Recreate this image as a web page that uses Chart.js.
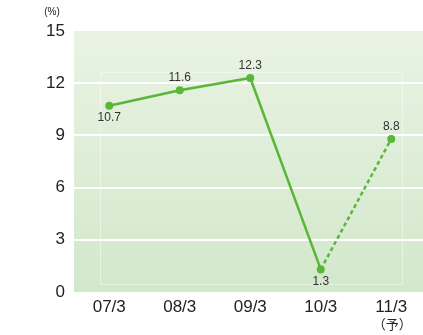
<!DOCTYPE html>
<html>
<head>
<meta charset="utf-8">
<script src="https://cdn.jsdelivr.net/npm/chart.js@4/dist/chart.umd.min.js"></script>
<style>
  html, body { margin: 0; padding: 0; background: #fff; overflow: hidden; }
  #wrap { width: 423px; height: 335px; position: relative; }
</style>
</head>
<body>
<div id="wrap"><canvas id="c"></canvas></div>
<script>
// data
var categories = ['07/3', '08/3', '09/3', '10/3', '11/3'];
var subLabels = ['', '', '', '', '（予）'];
var values = [10.7, 11.6, 12.3, 1.3, 8.8];
var labelBelow = [true, false, false, true, false];
var yTicks = [0, 3, 6, 9, 12, 15];

var GREEN = '#5ab637';
var FONT = '"Liberation Sans", Arial, sans-serif';

var points = values.map(function(v, i) { return {x: i, y: v}; });

// background gradient + faint inner frame
var bgPlugin = {
  id: 'bg',
  beforeDraw: function(chart) {
    var a = chart.chartArea, ctx = chart.ctx;
    ctx.save();
    var g = ctx.createLinearGradient(0, a.top, 0, a.bottom);
    g.addColorStop(0, '#e9f3e3');
    g.addColorStop(1, '#d2e8cb');
    ctx.fillStyle = g;
    ctx.fillRect(a.left, a.top, a.right - a.left, a.bottom - a.top);
    ctx.strokeStyle = 'rgba(255,255,255,0.45)';
    ctx.lineWidth = 1;
    ctx.strokeRect(a.left + 26.5, a.top + 41.5, a.right - a.left - 47, a.bottom - a.top - 49);
    ctx.restore();
  }
};

// value labels, % unit, forecast mark
var textPlugin = {
  id: 'texts',
  afterDatasetsDraw: function(chart) {
    var ctx = chart.ctx;
    var meta = chart.getDatasetMeta(0);
    ctx.save();
    ctx.fillStyle = '#333';
    ctx.font = '12px ' + FONT;
    ctx.textAlign = 'center';
    ctx.textBaseline = 'middle';
    meta.data.forEach(function(pt, i) {
      var dy = labelBelow[i] ? 12 : -12;
      ctx.fillText(String(values[i]), pt.x, pt.y + dy);
    });
    ctx.fillStyle = '#222';
    ctx.font = '10px ' + FONT;
    ctx.fillText('(%)', 52, 12);
    // forecast mark under the last category, one char per full-width cell
    var xs = chart.scales.x;
    ctx.font = '13px "Noto Sans CJK JP", sans-serif';
    subLabels.forEach(function(s, i) {
      if (!s) return;
      var cx = xs.getPixelForValue(i) + 1;
      var chars = Array.from(s);
      chars.forEach(function(ch, k) {
        ctx.fillText(ch, cx + (k - (chars.length - 1) / 2) * 13, 324);
      });
    });
    ctx.restore();
  }
};

new Chart(document.getElementById('c'), {
  type: 'line',
  data: {
    datasets: [{
      data: points,
      borderColor: GREEN,
      backgroundColor: GREEN,
      borderWidth: 2.5,
      pointRadius: 4,
      pointHoverRadius: 4,
      pointBorderWidth: 0,
      tension: 0,
      segment: {
        borderDash: function(ctx) { return ctx.p0DataIndex === 3 ? [4, 3] : undefined; }
      }
    }]
  },
  options: {
    responsive: true,
    maintainAspectRatio: false,
    animation: false,
    layout: {autoPadding: false, padding: {top: 31, left: 0, right: 0, bottom: 0}},
    plugins: {legend: {display: false}, tooltip: {enabled: false}},
    scales: {
      x: {
        type: 'linear',
        min: -0.5,
        max: 4.45,
        afterBuildTicks: function(s) {
          s.ticks = categories.map(function(c, i) { return {value: i}; });
        },
        afterFit: function(s) {
          s.height = 43;
          s.paddingLeft = 0;
          s.paddingRight = 0;
        },
        grid: {display: false, drawTicks: false},
        border: {display: false},
        ticks: {
          callback: function(v) { return categories[v]; },
          color: '#222',
          font: {family: FONT, size: 17},
          padding: 5,
          maxRotation: 0,
          autoSkip: false
        }
      },
      y: {
        min: 0,
        max: 15,
        afterBuildTicks: function(s) {
          s.ticks = yTicks.map(function(v) { return {value: v}; });
        },
        afterFit: function(s) { s.width = 74; },
        grid: {
          color: function(ctx) { return (ctx.tick.value === 0 || ctx.tick.value === 15) ? 'rgba(0,0,0,0)' : '#ffffff'; },
          lineWidth: 2,
          drawTicks: false
        },
        border: {display: false},
        ticks: {
          color: '#222',
          font: {family: FONT, size: 17},
          padding: 9
        }
      }
    }
  },
  plugins: [bgPlugin, textPlugin]
});
</script>
</body>
</html>
